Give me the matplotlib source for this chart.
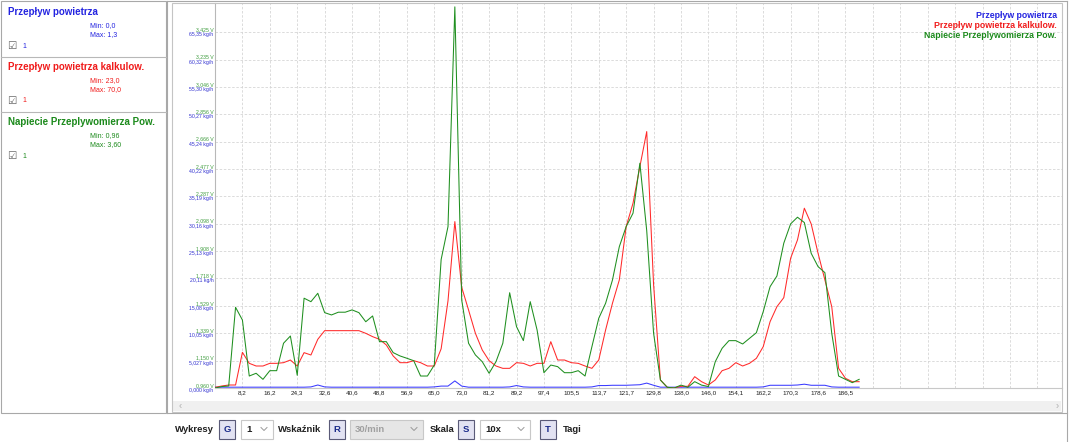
import matplotlib
matplotlib.use("Agg")
import matplotlib.pyplot as plt
from matplotlib.patches import Rectangle
from matplotlib.lines import Line2D

plt.rcParams['font.family'] = ['Liberation Sans', 'DejaVu Sans']

W, H = 1074, 442

# ---------------- data ----------------
series_names = ["Przepływ powietrza", "Przepływ powietrza kalkulow.", "Napiecie Przeplywomierza Pow."]

# sample number (one sample every ~2 min)
sample = list(range(95))

# Przepływ powietrza [kg/h]
blue_kgh = [0.15, 0.15, 0.15, 0.15, 0.15, 0.15, 0.15, 0.15, 0.15, 0.15,
            0.15, 0.15, 0.15, 0.15, 0.2, 0.55, 0.2, 0.15, 0.15, 0.15,
            0.15, 0.15, 0.15, 0.15, 0.15, 0.15, 0.15, 0.15, 0.15, 0.15,
            0.15, 0.15, 0.2, 0.35, 0.35, 1.3, 0.35, 0.15, 0.15, 0.15,
            0.15, 0.15, 0.15, 0.2, 0.45, 0.2, 0.15, 0.15, 0.15, 0.15,
            0.15, 0.15, 0.15, 0.15, 0.15, 0.2, 0.45, 0.45, 0.5, 0.5,
            0.5, 0.55, 0.6, 0.9, 0.5, 0.15, 0.15, 0.15, 0.15, 0.15,
            0.15, 0.15, 0.15, 0.15, 0.15, 0.15, 0.15, 0.15, 0.15, 0.15,
            0.2, 0.5, 0.5, 0.5, 0.5, 0.55, 0.7, 0.5, 0.5, 0.5,
            0.2, 0.15, 0.15, 0.15, 0.15]

# Przepływ powietrza kalkulow. [kg/h]
red_kgh = [0.12, 0.37, 0.55, 0.55, 6.55, 4.53, 4.04, 4.04, 4.53, 4.53,
           4.65, 5.14, 4.04, 6.49, 6.06, 8.94, 10.53, 10.53, 10.53, 10.53,
           10.53, 10.53, 10.04, 9.43, 8.94, 7.90, 5.88, 4.65, 4.65, 5.02,
           4.65, 4.04, 4.04, 7.2, 16.0, 30.56, 18.5, 14.33, 10.04, 6.98,
           5.02, 4.04, 3.61, 3.61, 4.65, 4.53, 4.04, 4.53, 4.53, 8.51,
           5.14, 5.14, 4.65, 4.53, 4.04, 3.61, 5.14, 10.66, 15.56, 19.84,
           29.64, 33.94, 40.66, 47.09, 19.0, 1.47, 0.12, 0.0, 0.31, 0.31,
           2.08, 1.16, 0.55, 1.47, 3.18, 3.61, 4.65, 4.04, 4.53, 5.45,
           7.59, 12.18, 14.94, 16.59, 23.83, 27.19, 33.02, 30.13, 24.75, 19.84,
           14.94, 3.61, 1.78, 1.16, 1.16]

# Napiecie Przeplywomierza Pow. [V]
green_v = [0.96, 0.97, 0.974, 1.519, 1.431, 1.043, 1.062, 1.020, 1.080, 1.080,
           1.270, 1.320, 1.048, 1.582, 1.558, 1.616, 1.482, 1.466, 1.485, 1.485,
           1.501, 1.482, 1.419, 1.459, 1.281, 1.281, 1.205, 1.182, 1.166, 1.149,
           1.043, 1.043, 1.119, 1.85, 2.078, 3.60, 1.570, 1.270, 1.189, 1.142,
           1.062, 1.142, 1.270, 1.620, 1.385, 1.288, 1.558, 1.362, 1.066, 1.119,
           1.108, 1.066, 1.066, 1.080, 1.043, 1.246, 1.443, 1.547, 1.708, 1.939,
           2.078, 2.171, 2.517, 2.05, 1.34, 1.015, 0.965, 0.96, 0.98, 0.965,
           1.004, 0.98, 0.97, 1.142, 1.235, 1.288, 1.288, 1.265, 1.304, 1.343,
           1.489, 1.662, 1.736, 1.963, 2.097, 2.143, 2.106, 1.893, 1.801, 1.759,
           1.339, 1.043, 1.020, 0.997, 1.020]

x_tick_labels = ["8,2", "16,2", "24,3", "32,6", "40,6", "48,8", "56,9", "65,0", "73,0",
                 "81,2", "89,2", "97,4", "105,5", "113,7", "121,7", "129,8", "138,0",
                 "146,0", "154,1", "162,2", "170,3", "178,6", "186,5"]

kgh_ticks = [0.000, 5.027, 10.05, 15.08, 20.11, 25.13, 30.16, 35.19, 40.22, 45.24,
             50.27, 55.30, 60.32, 65.35]
kgh_labels = ["0,000 kg/h", "5,027 kg/h", "10,05 kg/h", "15,08 kg/h", "20,11 kg/h",
              "25,13 kg/h", "30,16 kg/h", "35,19 kg/h", "40,22 kg/h", "45,24 kg/h",
              "50,27 kg/h", "55,30 kg/h", "60,32 kg/h", "65,35 kg/h"]
v_ticks = [0.960, 1.150, 1.339, 1.529, 1.718, 1.908, 2.098, 2.287, 2.477, 2.666,
           2.856, 3.046, 3.235, 3.425]
v_labels = ["0,960 V", "1,150 V", "1,339 V", "1,529 V", "1,718 V", "1,908 V", "2,098 V",
            "2,287 V", "2,477 V", "2,666 V", "2,856 V", "3,046 V", "3,235 V", "3,425 V"]

panel_minmax = [("Min: 0,0", "Max: 1,3"), ("Min: 23,0", "Max: 70,0"), ("Min: 0,96", "Max: 3,60")]

C_BLUE = '#2424e0'
C_RED = '#f01c1c'
C_GREEN = '#1c8a1c'
LINE_BLUE = '#3a3aff'
LINE_RED = '#ff2a2a'
LINE_GREEN = '#1f8f1f'

# ---------------- figure ----------------
fig = plt.figure(figsize=(W / 100, H / 100), dpi=100)
fig.patch.set_facecolor('white')


def fx(x):
    return x / W


def fy(y):
    return 1 - y / H


def rect(x0, y0, x1, y1, fc='none', ec='#a0a0a0', lw=0.8, z=1):
    fig.add_artist(Rectangle((fx(x0), fy(y1)), (x1 - x0) / W, (y1 - y0) / H,
                             transform=fig.transFigure, facecolor=fc, edgecolor=ec,
                             lw=lw, zorder=z))


def line(xs, ys, color='#a0a0a0', lw=0.8, z=2):
    fig.add_artist(Line2D([fx(v) for v in xs], [fy(v) for v in ys],
                          transform=fig.transFigure, color=color, lw=lw, zorder=z))


def txt(x, y, s, size, color='black', weight='normal', ha='left', va='center', family=None):
    kw = {}
    if family:
        kw['family'] = family
    fig.text(fx(x), fy(y), s, fontsize=size, color=color, weight=weight, ha=ha, va=va, **kw)


# ---------------- left panel ----------------
rect(1, 1, 166, 413, fc='white', ec='#a8a8a8', lw=0.8)
line([1, 166], [57, 57], '#b8b8b8', 0.8)
line([1, 166], [112, 112], '#b8b8b8', 0.8)

title_cols = [C_BLUE, C_RED, C_GREEN]
title_y = [12, 67, 122]
for name, col, ty, (mn, mx) in zip(series_names, title_cols, title_y, panel_minmax):
    txt(8, ty, name, 7.0, col, 'bold')
    txt(90, ty + 13.5, mn, 5.0, col)
    txt(90, ty + 22.5, mx, 5.0, col)
    txt(7, ty + 34, "☑", 7.5, '#606060', family='DejaVu Sans')
    txt(22, ty + 34, "1", 5.0, col)

# ---------------- chart panel frame ----------------
line([167, 167], [1, 413], '#a8a8a8', 0.8)
line([167, 1067], [1, 1], '#a8a8a8', 0.8)
line([1067, 1067], [1, 442], '#a8a8a8', 0.8)
line([167, 1067], [413, 413], '#a8a8a8', 0.8)
rect(172, 3, 1062, 412, fc='none', ec='#c4c4c4', lw=0.8, z=2)

# scrollbar
rect(173, 401, 1061, 411, fc='#f0f0f0', ec='none', lw=0)
txt(180, 406, "‹", 7, '#b0b0b0', ha='center')
txt(1057, 406, "›", 7, '#b0b0b0', ha='center')

# ---------------- axes ----------------
ax_left, ax_right, ax_top, ax_bot = 215, 1062, 3, 388
ax = fig.add_axes([fx(ax_left), fy(ax_bot), (ax_right - ax_left) / W, (ax_bot - ax_top) / H])
ax.set_facecolor('none')
y_top = 70.7
ax.set_xlim(0, 123.6)
ax.set_ylim(0, y_top)

for s in ['top', 'right']:
    ax.spines[s].set_visible(False)
ax.spines['left'].set_color('#b8b8b8')
ax.spines['bottom'].set_color('#c8c8c8')
ax.spines['left'].set_linewidth(0.8)
ax.spines['bottom'].set_linewidth(0.8)

xt = list(range(4, 124, 4))
ax.set_xticks(xt)
ax.set_xticklabels(x_tick_labels + [''] * (len(xt) - len(x_tick_labels)))
ax.tick_params(axis='x', length=0, pad=1.8, labelsize=4.6, labelcolor='#202020')

ax.set_yticks(kgh_ticks)
ax.set_yticklabels(kgh_labels, va='top')
ax.tick_params(axis='y', length=0, pad=1.2, labelsize=3.7, labelcolor='#3030d0')

ax.grid(True, color='#d6d6d6', linestyle=(0, (3, 2)), linewidth=0.6)
ax.set_axisbelow(True)

ax.plot(sample, blue_kgh, color=LINE_BLUE, lw=0.75, zorder=3)
ax.plot(sample, red_kgh, color=LINE_RED, lw=0.75, zorder=3)

# voltage scale aligned with kg/h scale
ratio = (v_ticks[-1] - v_ticks[0]) / (kgh_ticks[-1] - kgh_ticks[0])
ax2 = ax.twinx()
ax2.set_ylim(v_ticks[0], v_ticks[0] + y_top * ratio)
ax2.yaxis.set_ticks_position('left')
ax2.yaxis.set_label_position('left')
ax2.set_yticks(v_ticks)
ax2.set_yticklabels(v_labels, va='bottom')
ax2.tick_params(axis='y', length=0, pad=1.2, labelsize=3.7, labelcolor='#3a9a3a')
for s in ax2.spines.values():
    s.set_visible(False)
ax2.patch.set_visible(False)
ax2.plot(sample, green_v, color=LINE_GREEN, lw=0.75, zorder=3)

# legend text (top right)
leg_cols = [C_BLUE, C_RED, C_GREEN]
for i, (name, col) in enumerate(zip(series_names, leg_cols)):
    txt(1057, 15 + i * 10, name, 6.3, col, 'bold', ha='right')

# ---------------- toolbar ----------------
TY = 429


def button(x0, letter):
    rect(x0, 420, x0 + 16, 439, fc='#e2e2f2', ec='#5a5a78', lw=0.8)
    txt(x0 + 8, TY, letter, 6.8, '#1a2a8a', 'bold', ha='center')


def dropdown(x0, x1, label, fc='white', tc='#202020'):
    rect(x0, 420, x1, 439, fc=fc, ec='#c8c8c8', lw=0.8)
    txt(x0 + 5, TY, label, 6.8, tc, 'bold')
    cx = x1 - 9
    line([cx - 3, cx, cx + 3], [TY - 1.5, TY + 1.5, TY - 1.5], '#9a9a9a', 0.7, 3)


txt(175, TY, "Wykresy", 6.8, '#202020', 'bold')
button(219, "G")
dropdown(241, 273, "1")
txt(278, TY, "Wskaźnik", 6.8, '#202020', 'bold')
button(329, "R")
dropdown(350, 423, "30/min", fc='#e6e6e6', tc='#a0a0a0')
txt(430, TY, "Skala", 6.8, '#202020', 'bold')
button(458, "S")
dropdown(480, 530, "10x")
button(540, "T")
txt(563, TY, "Tagi", 6.8, '#202020', 'bold')

fig.savefig("out.png", dpi=100, facecolor='white')
